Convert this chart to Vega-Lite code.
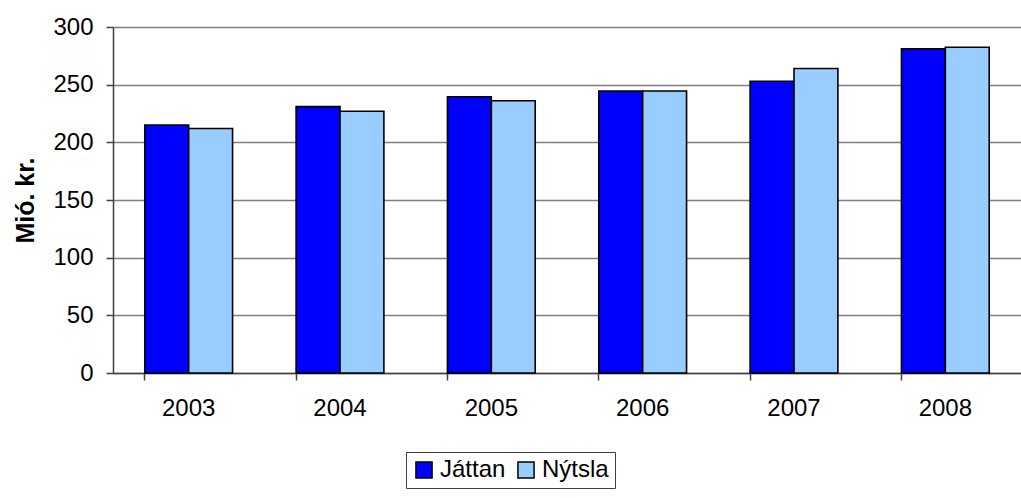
{
  "$schema": "https://vega.github.io/schema/vega-lite/v6.json",
  "width": 908,
  "height": 346,
  "autosize": {"type": "none"},
  "padding": {"left": 113, "top": 27, "right": 0, "bottom": 125},
  "background": "white",
  "data": {
    "values": [
      {"year": "2003", "series": "Játtan", "value": 215},
      {"year": "2003", "series": "Nýtsla", "value": 212},
      {"year": "2004", "series": "Játtan", "value": 231},
      {"year": "2004", "series": "Nýtsla", "value": 227},
      {"year": "2005", "series": "Játtan", "value": 239.5},
      {"year": "2005", "series": "Nýtsla", "value": 236},
      {"year": "2006", "series": "Játtan", "value": 244.5},
      {"year": "2006", "series": "Nýtsla", "value": 244.5},
      {"year": "2007", "series": "Játtan", "value": 253},
      {"year": "2007", "series": "Nýtsla", "value": 264},
      {"year": "2008", "series": "Játtan", "value": 281},
      {"year": "2008", "series": "Nýtsla", "value": 282.5}
    ]
  },
  "mark": {"type": "bar", "stroke": "black", "strokeWidth": 1.6},
  "encoding": {
    "x": {
      "field": "year",
      "type": "nominal",
      "scale": {"paddingInner": 0.42, "paddingOuter": 0.21},
      "axis": {
        "title": null,
        "labelAngle": 0,
        "bandPosition": 0,
        "labelFont": "Liberation Sans",
        "labelFontSize": 24,
        "labelColor": "black",
        "labelPadding": 16,
        "tickSize": 7,
        "tickColor": "#404040",
        "tickWidth": 1.5,
        "domainColor": "#404040",
        "domainWidth": 1.5,
        "grid": false
      }
    },
    "xOffset": {"field": "series", "scale": {"paddingInner": 0, "paddingOuter": 0}},
    "y": {
      "field": "value",
      "type": "quantitative",
      "scale": {"domain": [0, 300], "nice": false},
      "axis": {
        "title": "Mió. kr.",
        "titleFont": "Liberation Sans",
        "titleFontSize": 25,
        "titleFontWeight": "bold",
        "titleColor": "black",
        "titlePadding": 14,
        "values": [0, 50, 100, 150, 200, 250, 300],
        "labelFont": "Liberation Sans",
        "labelFontSize": 24,
        "labelColor": "black",
        "labelPadding": 13,
        "tickSize": 7,
        "tickColor": "#404040",
        "tickWidth": 1.5,
        "domainColor": "#404040",
        "domainWidth": 1.5,
        "grid": true,
        "gridColor": "#808080",
        "gridWidth": 1.5
      }
    },
    "color": {
      "field": "series",
      "type": "nominal",
      "scale": {"domain": ["Játtan", "Nýtsla"], "range": ["#0000FF", "#99CCFF"]},
      "legend": {
        "title": null,
        "orient": "none",
        "legendX": 293,
        "legendY": 425,
        "direction": "horizontal",
        "symbolType": "square",
        "symbolSize": 260,
        "symbolStrokeColor": "black",
        "symbolStrokeWidth": 1.5,
        "symbolOpacity": 1,
        "labelFont": "Liberation Sans",
        "labelFontSize": 24,
        "labelColor": "black",
        "labelOffset": 4,
        "columnPadding": 8,
        "padding": 6,
        "strokeColor": "#404040"
      }
    }
  },
  "config": {
    "view": {"stroke": null}
  }
}
